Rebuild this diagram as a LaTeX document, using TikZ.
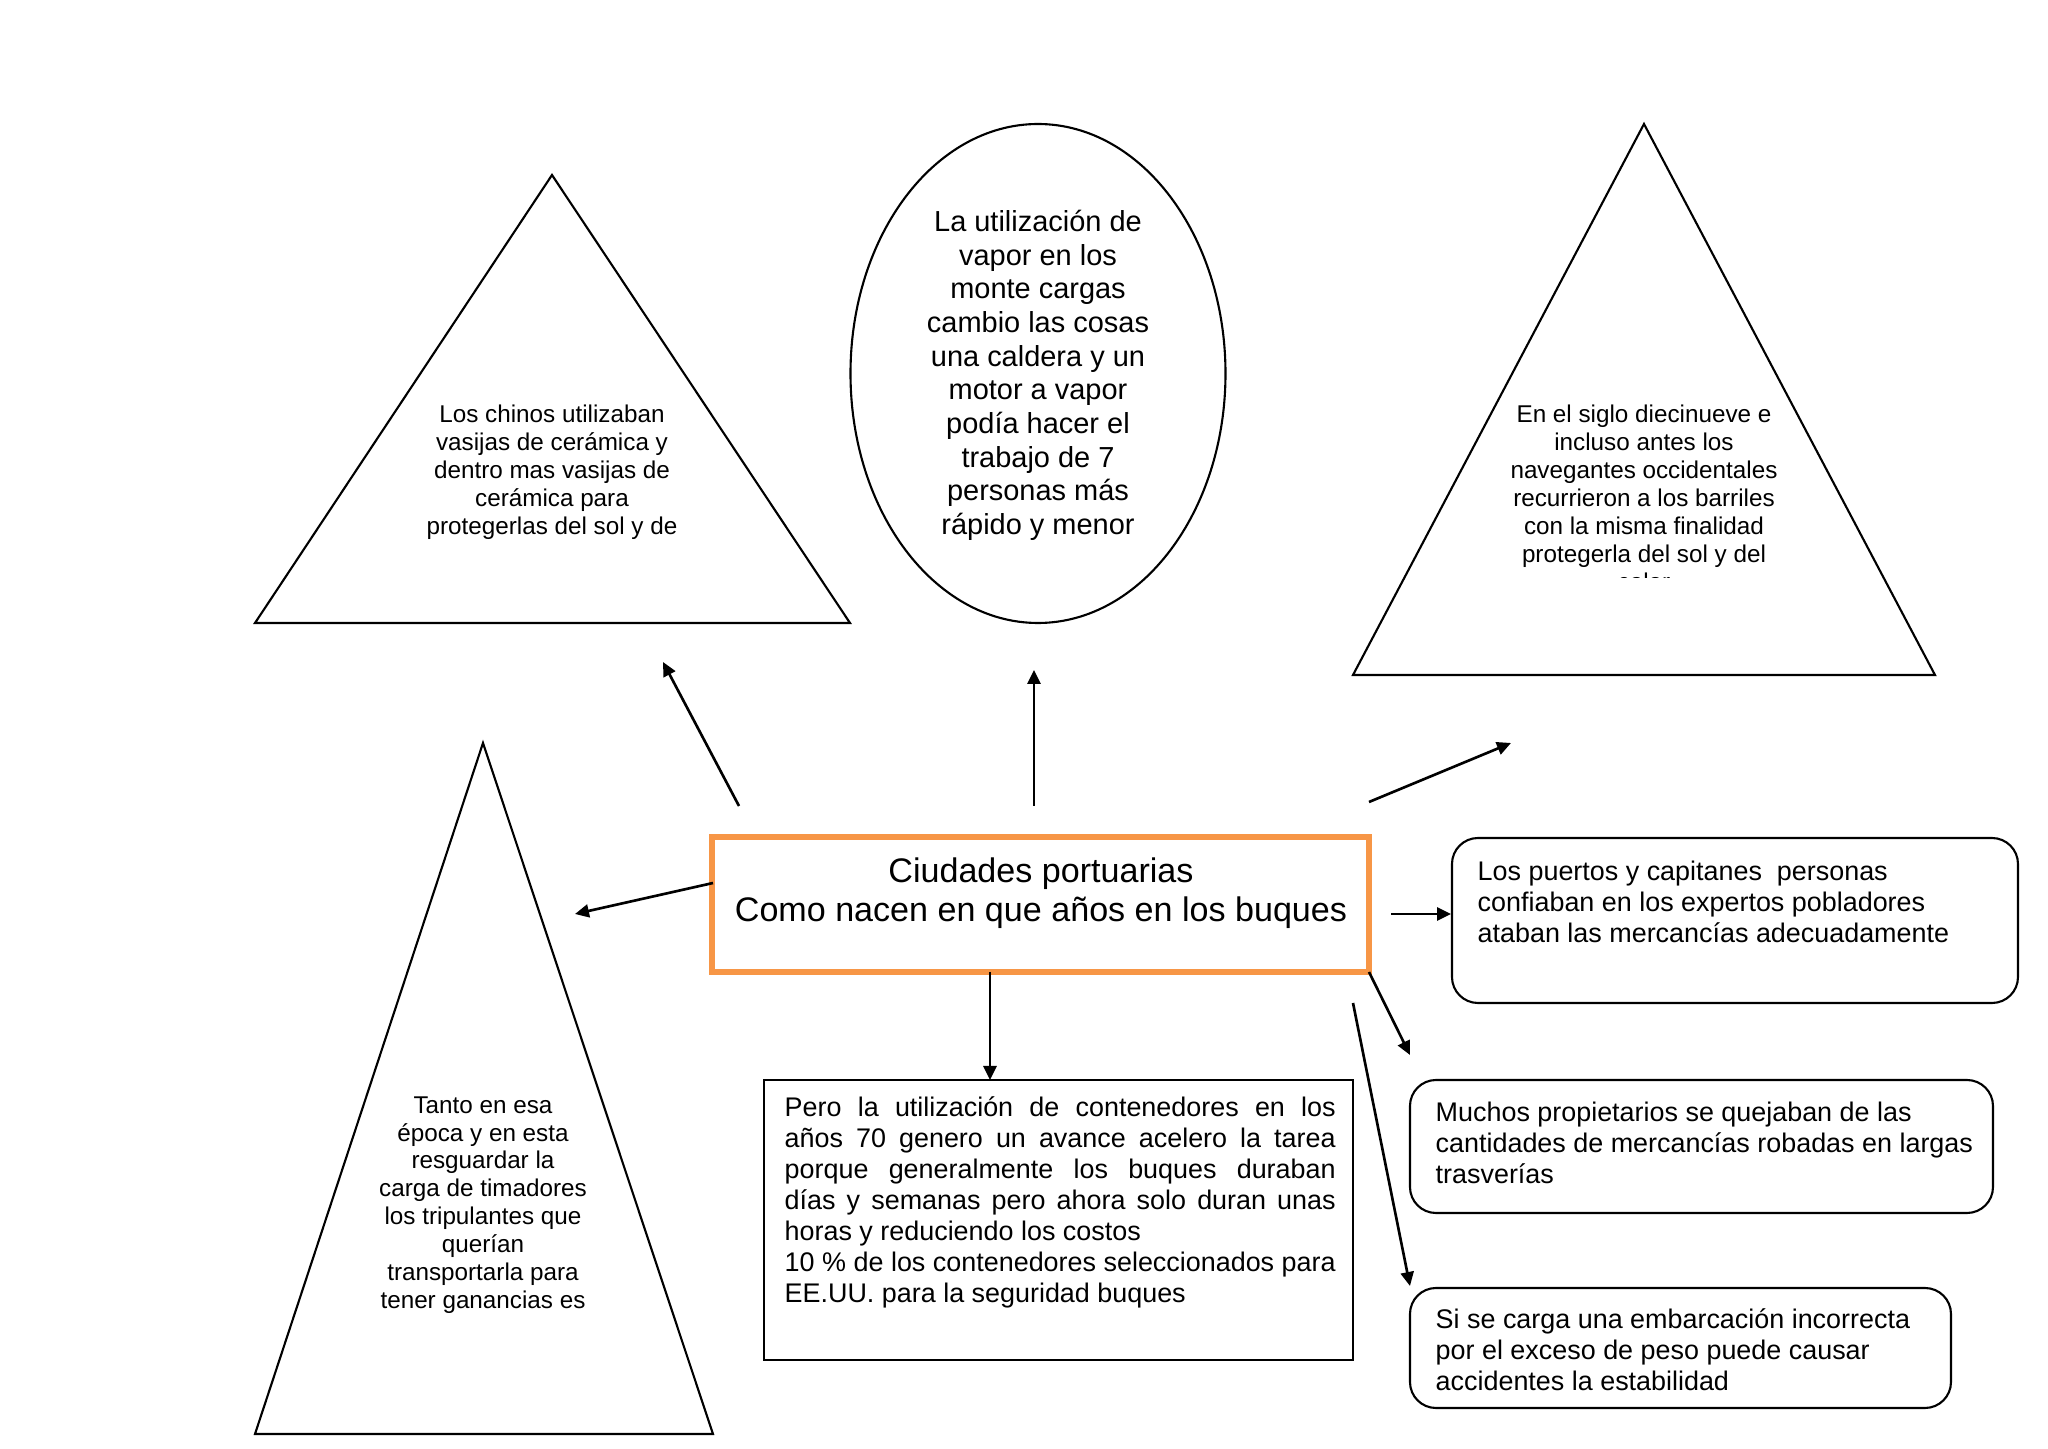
\documentclass[tikz,border=0pt]{standalone}
\usepackage{fontspec}
\setmainfont{Liberation Sans}
\usetikzlibrary{arrows.meta,calc,positioning}
\definecolor{MapInk}{HTML}{000000}
\definecolor{MapOrange}{HTML}{F79646}
\newcommand{\spreadline}[1]{\makebox[5.51cm][s]{#1}}
\tikzset{
  every node/.style={text=MapInk, inner sep=0pt},
  outline/.style={draw=MapInk, line width=0.6pt},
  hub/.style={draw=MapOrange, line width=1.6pt},
  card/.style={draw=MapInk, line width=0.6pt, rounded corners=2.6mm},
  link/.style={-{Triangle[length=1.4mm,width=1.3mm]}, draw=MapInk, line width=0.75pt},
  tritext/.style={font=\fontsize{6.9}{7.94}\selectfont, align=center},
  boxtext/.style={font=\fontsize{7.66}{8.8}\selectfont, align=left, anchor=west},
}

\begin{document}
\begin{tikzpicture}[x=1cm,y=1cm]
  \useasboundingbox (0,0) rectangle (20.48,14.48);
  % Central topic
  \draw[hub] (7.12,4.76) rectangle (13.69,6.11);
  \node[font=\fontsize{9.7}{11.1}\selectfont, align=center] (topic) at (10.41,5.55)
    {Ciudades portuarias\\Como nacen en que años en los buques};
  % Top row: two triangles and the ellipse
  \draw[outline] (2.55,8.25) -- (5.52,12.73) -- (8.50,8.25) -- cycle;
  \node[tritext] (chinos) at (5.52,9.755)
    {Los chinos utilizaban\\vasijas de cerámica y\\dentro mas vasijas de\\cerámica para\\protegerlas del sol y de};
  \draw[outline] (10.38,10.745) ellipse [x radius=1.875, y radius=2.495];
  \node[font=\fontsize{8.24}{9.58}\selectfont, align=center] (vapor) at (10.38,10.725)
    {La utilización de\\vapor en los\\monte cargas\\cambio las cosas\\una caldera y un\\motor a vapor\\podía hacer el\\trabajo de 7\\personas más\\rápido y menor};
  \draw[outline] (13.53,7.73) -- (16.44,13.24) -- (19.35,7.73) -- cycle;
  \begin{scope}
    \clip (13.6,8.70) rectangle (19.3,11);
    \node[tritext] (barriles) at (16.44,9.50)
      {En el siglo diecinueve e\\incluso antes los\\navegantes occidentales\\recurrieron a los barriles\\con la misma finalidad\\protegerla del sol y del\\calor};
  \end{scope}
  % Bottom left triangle
  \draw[outline] (2.55,0.14) -- (4.83,7.05) -- (7.13,0.14) -- cycle;
  \node[tritext] (epoca) at (4.83,2.43)
    {Tanto en esa\\época y en esta\\resguardar la\\carga de timadores\\los tripulantes que\\querían\\transportarla para\\tener ganancias es};
  % Containers box
  \draw[outline] (7.64,0.88) rectangle (13.53,3.68);
  \node[boxtext] (contenedores) at (7.84,2.455)
    {\spreadline{Pero la utilización de contenedores en los}\\
     \spreadline{años 70 genero un avance acelero la tarea}\\
     \spreadline{porque generalmente los buques duraban}\\
     \spreadline{días y semanas pero ahora solo duran unas}\\
     horas y reduciendo los costos\\
     \spreadline{10 \% de los contenedores seleccionados para}\\
     EE.UU. para la seguridad buques};
  % Right column
  \draw[card] (14.52,4.45) rectangle (20.18,6.10);
  \node[boxtext] (puertos) at (14.77,5.46)
    {Los puertos y capitanes~ personas\\confiaban en los expertos pobladores\\ataban las mercancías adecuadamente};
  \draw[card] (14.10,2.35) rectangle (19.93,3.68);
  \node[boxtext] (propietarios) at (14.35,3.05)
    {Muchos propietarios se quejaban de las\\cantidades de mercancías robadas en largas\\trasverías};
  \draw[card] (14.10,0.40) rectangle (19.51,1.60);
  \node[boxtext] (carga) at (14.35,0.985)
    {Si se carga una embarcación incorrecta\\por el exceso de peso puede causar\\accidentes la estabilidad};
  % Arrow ends
  \coordinate (a1) at (7.39,6.42);   \coordinate (b1) at (6.63,7.86);
  \coordinate (a2) at (10.34,6.42);  \coordinate (b2) at (10.34,7.78);
  \coordinate (a3) at (13.69,6.46);  \coordinate (b3) at (15.11,7.05);
  \coordinate (a4) at (7.13,5.65);   \coordinate (b4) at (5.75,5.34);
  \coordinate (a5) at (9.90,4.76);   \coordinate (b5) at (9.90,3.68);
  \coordinate (a6) at (13.91,5.34);  \coordinate (b6) at (14.51,5.34);
  \coordinate (a7) at (13.69,4.76);  \coordinate (b7) at (14.10,3.93);
  \coordinate (a8) at (13.53,4.45);  \coordinate (b8) at (14.10,1.62);
  \foreach \i in {1,...,8}
    \draw[link] (a\i) -- (b\i);
\end{tikzpicture}
\end{document}
